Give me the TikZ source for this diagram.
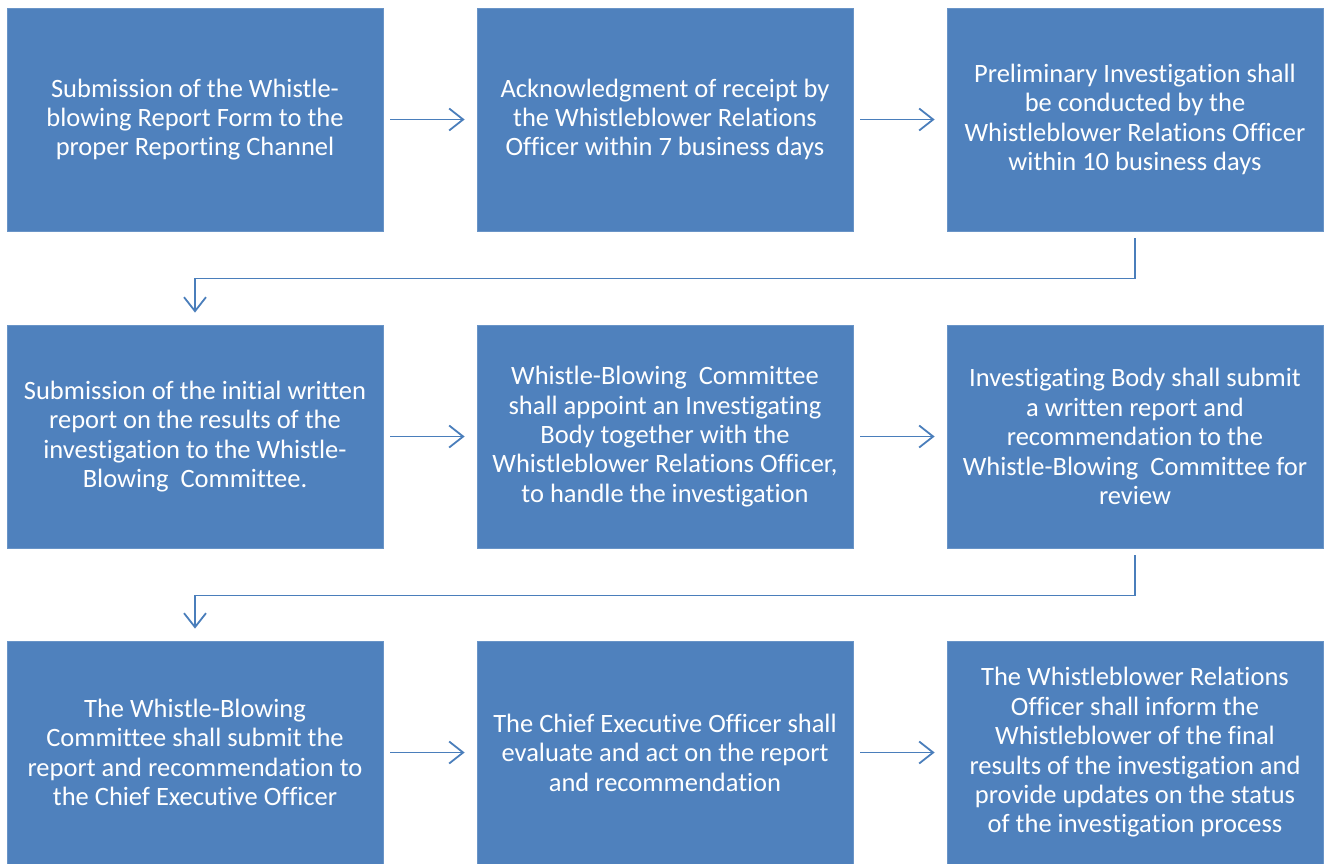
\documentclass[tikz,border=0pt]{standalone}
\usepackage{fontspec}
\setmainfont{Carlito}[Ligatures={NoCommon}, RawFeature={-liga;-clig}]
\usetikzlibrary{arrows.meta}
\definecolor{boxblue}{HTML}{4F81BD}
\definecolor{linkblue}{HTML}{4A7EBB}
\tikzset{
  stepbox/.style={fill=boxblue, draw=boxblue!85!white, line width=0.8pt, minimum width=376pt, minimum height=223pt,
    inner sep=0pt, align=center, text=white, font=\fontsize{26.5}{29.4}\selectfont},
  link/.style={draw=linkblue, line width=1.8pt, -{Straight Barb[length=14pt, width=22pt, line width=1.8pt]}},
  flow/.style={link, shorten <=7pt, shorten >=12pt}
}
\begin{document}
\begin{tikzpicture}[x=1pt,y=-1pt]
\useasboundingbox (0,0) rectangle (1325,863);
\node[stepbox] (a1) at (195,119.5) {Submission of the Whistle-\\blowing Report Form to the\\proper Reporting Channel};
\node[stepbox] (a2) at (665,119.5) {Acknowledgment of receipt by\\the Whistleblower Relations\\Officer within 7 business days};
\node[stepbox] (a3) at (1135,119.5) {Preliminary Investigation shall\\be conducted by the\\Whistleblower Relations Officer\\within 10 business days};
\node[stepbox] (b1) at (195,436.5) {Submission of the initial written\\report on the results of the\\investigation to the Whistle-\\Blowing~ Committee.};
\node[stepbox] (b2) at (665,436.5) {Whistle-Blowing~ Committee\\shall appoint an Investigating\\Body together with the\\Whistleblower Relations Officer,\\to handle the investigation};
\node[stepbox] (b3) at (1135,436.5) {Investigating Body shall submit\\a written report and\\recommendation to the\\Whistle-Blowing~ Committee for\\review};
\node[stepbox] (c1) at (195,752.5) {The Whistle-Blowing\\Committee shall submit the\\report and recommendation to\\the Chief Executive Officer};
\node[stepbox] (c2) at (665,752.5) {The Chief Executive Officer shall\\evaluate and act on the report\\and recommendation};
\node[stepbox] (c3) at (1135,752.5) {The Whistleblower Relations\\Officer shall inform the\\Whistleblower of the final\\results of the investigation and\\provide updates on the status\\of the investigation process};
\draw[flow] (a1) -- (a2);
\draw[flow] (a2) -- (a3);
\draw[flow] (b1) -- (b2);
\draw[flow] (b2) -- (b3);
\draw[flow] (c1) -- (c2);
\draw[flow] (c2) -- (c3);
\draw[flow] (a3.south) -- ++(0,47) -| (b1.north);
\draw[flow] (b3.south) -- ++(0,47) -| (c1.north);
\end{tikzpicture}
\end{document}
